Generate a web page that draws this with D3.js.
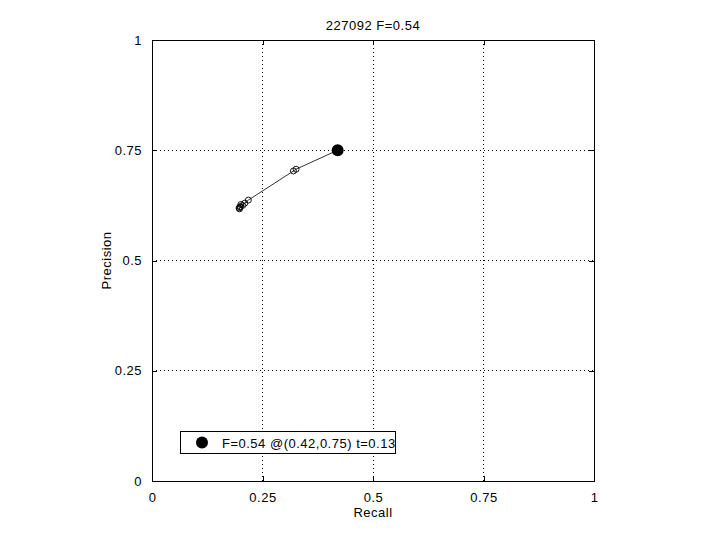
<!DOCTYPE html>
<html><head><meta charset="utf-8">
<script src="https://cdn.jsdelivr.net/npm/d3@7"></script>
<style>body{margin:0;background:#fff}svg{display:block}text{font-family:"Liberation Sans",Arial,sans-serif;letter-spacing:0.5px}</style>
</head><body><svg id="c" width="720" height="540"></svg>
<script>
const titleText = "227092 F=0.54";
const xLabel = "Recall", yLabel = "Precision";
const tickValues = [0, 0.25, 0.5, 0.75, 1];
const tickLabels = ["0", "0.25", "0.5", "0.75", "1"];
const recall =    [0.197, 0.198, 0.199, 0.200, 0.201, 0.205, 0.210, 0.218, 0.320, 0.326, 0.42];
const precision = [0.619, 0.617, 0.621, 0.622, 0.627, 0.625, 0.630, 0.637, 0.703, 0.707, 0.75];
const best = {r: 0.42, p: 0.75};
const legendText = "F=0.54 @(0.42,0.75) t=0.13";

const svg = d3.select("#c");
const L = 152, R = 594, T = 40, B = 481;
const x = d3.scaleLinear().domain([0,1]).range([L,R]);
const y = d3.scaleLinear().domain([0,1]).range([B,T]);
const FS = 13;

// grid
const g = svg.append("g");
tickValues.slice(1,-1).forEach(v=>{
  g.append("line").attr("x1",x(v)).attr("x2",x(v)).attr("y1",T).attr("y2",B)
   .attr("stroke","#000").attr("stroke-width",1).attr("stroke-dasharray","1,3").attr("shape-rendering","crispEdges");
  g.append("line").attr("y1",y(v)).attr("y2",y(v)).attr("x1",L).attr("x2",R)
   .attr("stroke","#000").attr("stroke-width",1).attr("stroke-dasharray","1,3").attr("shape-rendering","crispEdges");
});

// axes (ticks inside)
const fmt = d=>tickLabels[tickValues.indexOf(d)];
svg.append("g").attr("transform",`translate(0,${B})`)
  .call(d3.axisBottom(x).tickValues(tickValues).tickFormat(fmt).tickSizeInner(-5).tickSizeOuter(0).tickPadding(12));
svg.append("g").attr("transform",`translate(${L},0)`)
  .call(d3.axisLeft(y).tickValues(tickValues).tickFormat(fmt).tickSizeInner(-5).tickSizeOuter(0).tickPadding(10));
svg.append("g").attr("transform",`translate(0,${T})`)
  .call(d3.axisTop(x).tickValues(tickValues).tickFormat("").tickSizeInner(-5).tickSizeOuter(0));
svg.append("g").attr("transform",`translate(${R},0)`)
  .call(d3.axisRight(y).tickValues(tickValues).tickFormat("").tickSizeInner(-5).tickSizeOuter(0));
svg.selectAll(".tick text").attr("font-size",FS).attr("fill","#000").style("font-family",'"Liberation Sans",Arial,sans-serif');
svg.selectAll(".domain").remove();
svg.selectAll(".tick line").attr("stroke","#000").attr("shape-rendering","crispEdges");
svg.append("rect").attr("x",L).attr("y",T).attr("width",R-L).attr("height",B-T)
  .attr("fill","none").attr("stroke","#000").attr("shape-rendering","crispEdges");

// line
const pts = recall.map((r,i)=>[r,precision[i]]);
svg.append("path").attr("d", d3.line().x(d=>x(d[0])).y(d=>y(d[1]))(pts))
  .attr("fill","none").attr("stroke","#000").attr("stroke-width",0.8);
svg.selectAll("circle.p").data(pts).enter().append("circle").attr("class","p")
  .attr("cx",d=>x(d[0])).attr("cy",d=>y(d[1])).attr("r",3)
  .attr("fill","none").attr("stroke","#000").attr("stroke-width",0.9);
svg.append("circle").attr("cx",x(best.r)).attr("cy",y(best.p)).attr("r",6).attr("fill","#000");

// legend
svg.append("rect").attr("x",180.5).attr("y",431.5).attr("width",215).attr("height",22)
  .attr("fill","#fff").attr("stroke","#000");
svg.append("circle").attr("cx",202).attr("cy",442.5).attr("r",6).attr("fill","#000");
svg.append("text").attr("x",222).attr("y",447.5).attr("font-size",FS).style("letter-spacing","0.5px").text(legendText);

// labels
svg.append("text").attr("x",(L+R)/2).attr("y",30).attr("text-anchor","middle").attr("font-size",FS).text(titleText);
svg.append("text").attr("x",(L+R)/2).attr("y",517).attr("text-anchor","middle").attr("font-size",FS).text(xLabel);
svg.append("text").attr("transform",`translate(111,${(T+B)/2}) rotate(-90)`).attr("text-anchor","middle").attr("font-size",FS).text(yLabel);
</script></body></html>
